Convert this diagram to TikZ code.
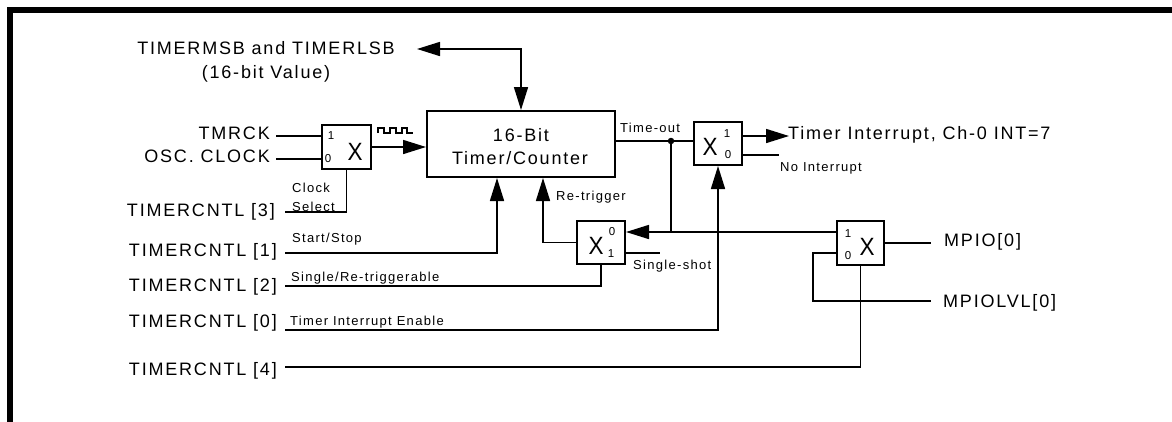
\documentclass[tikz,border=0pt]{standalone}
\usepackage{fontspec}
\setmainfont{Liberation Sans}[LetterSpace=10]
\usetikzlibrary{arrows.meta}
\begin{document}
\begin{tikzpicture}[x=1pt,y=-1pt,
  wire/.style={line width=1.6pt},
  tip/.tip={Triangle[length=23pt,width=14pt]},
  arr/.style={wire,-tip},
  blk/.style={draw,line width=2pt,inner sep=0pt},
  big/.style={inner sep=0pt,font=\fontsize{18}{20}\selectfont},
  sm/.style={inner sep=0pt,font=\fontsize{13}{15}\selectfont},
  dig/.style={inner sep=0pt,font=\fontsize{11.5}{13}\selectfont,anchor=base},
  bx/.style={inner sep=0pt,font=\fontsize{25}{27}\selectfont,anchor=base,xscale=0.9},
  jdot/.style={circle,fill,inner sep=0pt,minimum size=6.5pt}]
\useasboundingbox (0,0) rectangle (1172,421);
% frame
\draw[line width=6pt,line join=miter] (10,430) -- (10,10) -- (1180,10);

% blocks
\node[blk,minimum width=188pt,minimum height=66pt] (tmr) at (521,144) {};
\node[big,anchor=base] (tmr1) at (521,141) {16-Bit};
\node[big,anchor=base] (tmr2) at (520,164) {Timer/Counter};

\node[blk,minimum width=49pt,minimum height=44pt] (m1) at (346.5,147) {};
\node[dig] (m1a) at (331,139) {1};
\node[dig] (m1b) at (328,162) {0};
\node[bx] (m1x) at (355,160) {X};

\node[blk,minimum width=48pt,minimum height=43pt] (m2) at (601,242.5) {};
\node[bx] (m2x) at (596,254) {X};
\node[dig] (m2a) at (612,235) {0};
\node[dig] (m2b) at (611,257) {1};

\node[blk,minimum width=48pt,minimum height=43pt] (m3) at (718,143.5) {};
\node[bx] (m3x) at (710,155) {X};
\node[dig] (m3a) at (727,137) {1};
\node[dig] (m3b) at (728,158) {0};

\node[blk,minimum width=47pt,minimum height=44pt] (m4) at (860.5,243) {};
\node[dig] (m4a) at (848,237) {1};
\node[dig] (m4b) at (848,259) {0};
\node[bx] (m4x) at (867,255) {X};

% texts
\node[big,anchor=base] (msb1) at (266,54) {TIMERMSB and TIMERLSB};
\node[big,anchor=base] (msb2) at (266,78) {(16-bit Value)};
\node[big,anchor=base east] (tmrck) at (270,139) {TMRCK};
\node[big,anchor=base east] (osc) at (270,162.5) {OSC. CLOCK};
\node[big,anchor=base east] (c3) at (275,216) {TIMERCNTL [3]};
\node[big,anchor=base east] (c1) at (277,256.5) {TIMERCNTL [1]};
\node[big,anchor=base east] (c2) at (277,291.5) {TIMERCNTL [2]};
\node[big,anchor=base east] (c0) at (277,327.5) {TIMERCNTL [0]};
\node[big,anchor=base east] (c4) at (277,375) {TIMERCNTL [4]};
\node[sm,anchor=base west] (clk1) at (292,192) {Clock};
\node[sm,anchor=base west] (clk2) at (292,211) {Select};
\node[sm,anchor=base west] (lss) at (292,242.5) {Start/Stop};
\node[sm,anchor=base west] (lsr) at (291,281) {Single/Re-triggerable};
\node[sm,anchor=base west] (lie) at (290,325.5) {Timer Interrupt Enable};
\node[sm,anchor=base west] (lto) at (620,132) {Time-out};
\node[sm,anchor=base west] (lrt) at (556,200) {Re-trigger};
\node[sm,anchor=base west] (lsh) at (633,269) {Single-shot};
\node[big,anchor=base west] (lti) at (788,139) {Timer Interrupt, Ch-0 INT=7};
\node[sm,anchor=base west] (lni) at (780,171) {No Interrupt};
\node[big,anchor=base west] (lmp) at (944,246) {MPIO[0]};
\node[big,anchor=base west] (lml) at (943,307) {MPIOLVL[0]};

% free ends
\coordinate (msbE) at (417,49);
\coordinate (tmrckE) at (276,136);
\coordinate (oscE) at (276,159);
\coordinate (c3E) at (285,212);
\coordinate (c1E) at (285,253);
\coordinate (c2E) at (285,286);
\coordinate (c0E) at (285,330);
\coordinate (c4E) at (285,367);
\coordinate (shE) at (660,253);
\coordinate (tiE) at (789,136);
\coordinate (niE) at (779,155);
\coordinate (mpE) at (931,243);
\coordinate (mlE) at (931,301);
\node[jdot] (j) at (671,141) {};
\coordinate (j2) at (671,232);

% connectors
\draw[wire,tip-tip] (msbE) -| (tmr.north);
\draw[wire] (tmrckE) -- ([yshift=11pt]m1.west);
\draw[wire] (oscE) -- ([yshift=-12pt]m1.west);
\draw[arr] (m1.east) -- ([yshift=-3pt]tmr.west);
\draw[line width=1.3pt] (378,133) -- (378,128) -- (384,128) -- (384,133) -- (390,133) -- (390,128) -- (396,128) -- (396,133) -- (402,133) -- (402,128) -- (407,128) -- (407,133) -- (413,133);
\draw[wire] (m1.south) |- (c3E);
\draw[arr] (c1E) -| ([xshift=-24pt]tmr.south);
\draw[wire] (c2E) -| (m2.south);
\draw[arr] (c0E) -| (m3.south);
\draw[wire] (c4E) -| (m4.south);
\draw[wire] ([yshift=3pt]tmr.east) -- ([yshift=2.5pt]m3.west);
\draw[wire] (j.center) -- (j2);
\draw[arr] ([yshift=11pt]m4.west) -- ([yshift=10.5pt]m2.east);
\draw[arr] (m2.west) -| ([xshift=22pt]tmr.south);
\draw[wire] ([yshift=-10.5pt]m2.east) -- (shE);
\draw[arr] ([yshift=7.5pt]m3.east) -- (tiE);
\draw[wire] ([yshift=-11.5pt]m3.east) -- (niE);
\draw[wire] (m4.east) -- (mpE);
\draw[wire] ([yshift=-10pt]m4.west) -- ++(-23,0) |- (mlE);
\end{tikzpicture}
\end{document}
